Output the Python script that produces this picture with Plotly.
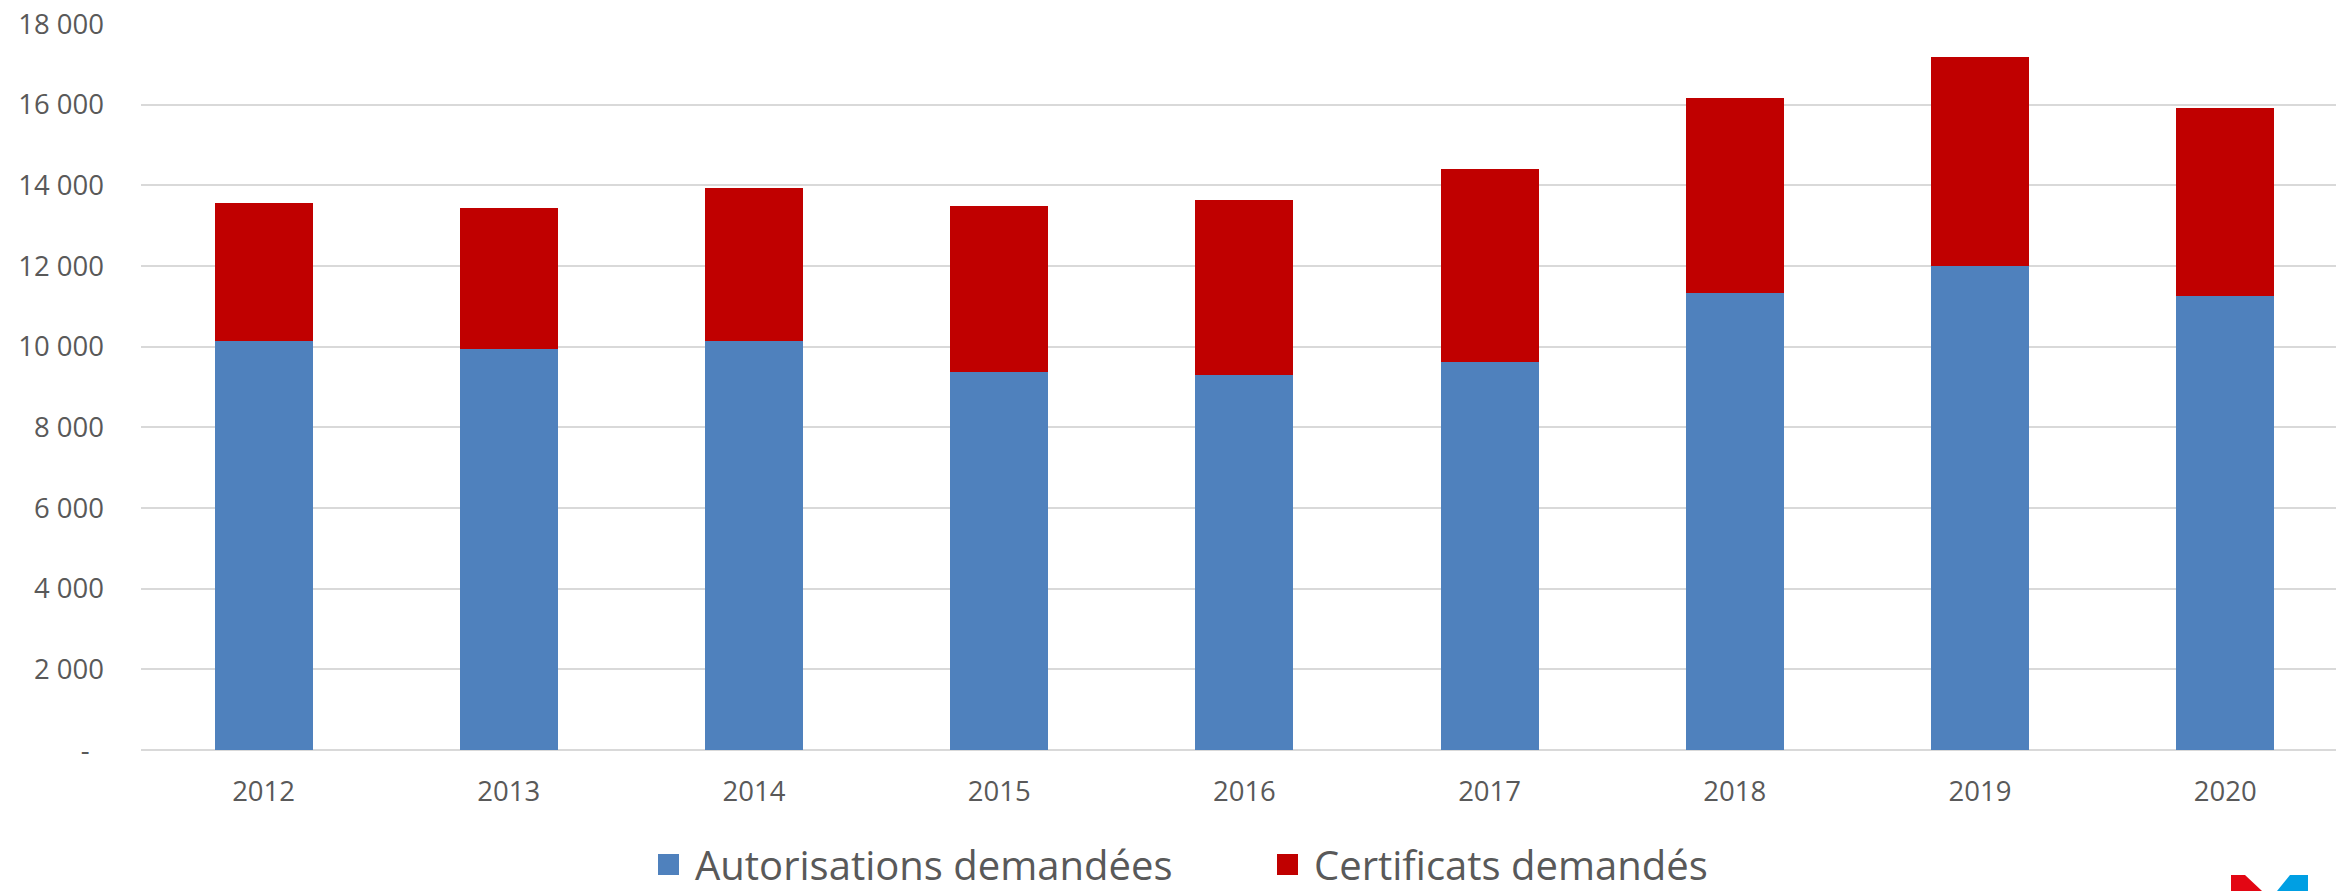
import plotly.graph_objects as go

years = ["2012", "2013", "2014", "2015", "2016", "2017", "2018", "2019", "2020"]
autorisations = [10140, 9950, 10140, 9365, 9300, 9620, 11340, 12000, 11245]
certificats = [3430, 3490, 3800, 4130, 4340, 4795, 4825, 5190, 4665]

y_tick_vals = [0, 2000, 4000, 6000, 8000, 10000, 12000, 14000, 16000, 18000]
y_tick_text = ["-\u00a0\u00a0", "2 000", "4 000", "6 000", "8 000", "10 000",
               "12 000", "14 000", "16 000", "18 000"]

series_names = ["Autorisations demandées", "Certificats demandés"]
BLUE = "#4F81BD"
RED = "#C00000"
FONT = "Open Sans, Liberation Sans, Arial, sans-serif"
TXT = "#595959"

W, H = 2336, 891
ML, MR, MT, MB = 141, 0, 24, 141
PW, PH = W - ML - MR, H - MT - MB
CAT_W = 245.2

fig = go.Figure()
fig.add_trace(go.Bar(x=years, y=autorisations, name=series_names[0],
                     marker=dict(color=BLUE, line=dict(width=0)), width=0.4,
                     showlegend=False))
fig.add_trace(go.Bar(x=years, y=certificats, name=series_names[1],
                     marker=dict(color=RED, line=dict(width=0)), width=0.4,
                     showlegend=False))
# legend entries with larger square symbols
for nm, col in zip(series_names, [BLUE, RED]):
    fig.add_trace(go.Scatter(x=[None], y=[None], mode="markers", name=nm,
                             marker=dict(symbol="square", size=16, color=col,
                                         line=dict(color=col, width=5))))

def px_x(p):
    return (p - ML) / PW

def px_y(p):
    return (H - MB - p) / PH

def poly(pts):
    return "M " + " L ".join(f"{px_x(a):.5f},{px_y(b):.5f}" for a, b in pts) + " Z"

shapes = [
    dict(type="path", xref="paper", yref="paper", layer="above",
         path=poly([(2231, 875), (2245, 875), (2262, 891), (2231, 891)]),
         fillcolor="#E30613", line=dict(width=0)),
    dict(type="path", xref="paper", yref="paper", layer="above",
         path=poly([(2290, 875), (2308, 875), (2308, 891), (2277, 891)]),
         fillcolor="#009FE3", line=dict(width=0)),
]

fig.update_layout(
    width=W, height=H,
    barmode="stack",
    plot_bgcolor="white", paper_bgcolor="white",
    margin=dict(l=ML, r=MR, t=MT, b=MB, pad=0, autoexpand=False),
    font=dict(family=FONT, color=TXT, size=27.5),
    xaxis=dict(type="category", range=[-0.5, -0.5 + PW / CAT_W],
               showgrid=False, showline=False, ticks="", zeroline=False,
               tickfont=dict(size=27.5, color=TXT), ticklabelstandoff=22,
               automargin=False),
    yaxis=dict(range=[0, 18000], tickvals=y_tick_vals, ticktext=y_tick_text,
               showgrid=True, gridcolor="#D9D9D9", gridwidth=2,
               zeroline=True, zerolinecolor="#D9D9D9", zerolinewidth=2,
               showline=False, ticks="", tickfont=dict(size=27.5, color=TXT),
               ticklabelstandoff=36, automargin=False),
    legend=dict(orientation="h", x=px_x(642), xanchor="left",
                y=px_y(832), yanchor="top", traceorder="normal",
                font=dict(size=40, color=TXT, family=FONT),
                itemwidth=43,
                entrywidth=561, entrywidthmode="pixels",
                itemsizing="trace", bgcolor="rgba(0,0,0,0)"),
    shapes=shapes,
)

fig.write_html("out.html", config={"displayModeBar": False},
               post_script="document.body.style.margin='0';document.body.style.padding='0';")
